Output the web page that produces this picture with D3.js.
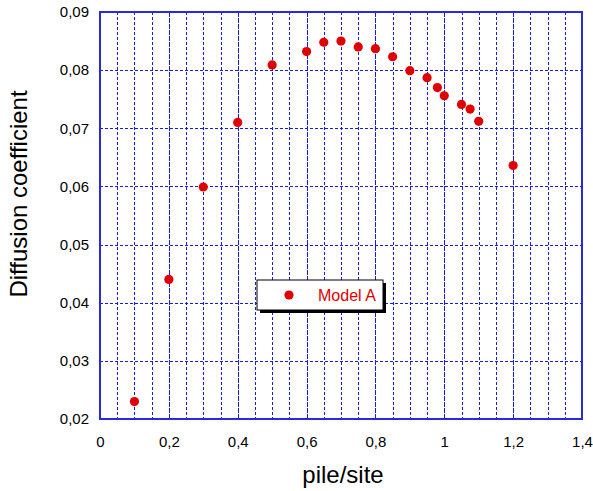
<!DOCTYPE html>
<html>
<head>
<meta charset="utf-8">
<script src="https://cdn.jsdelivr.net/npm/d3@7"></script>
<style>
  html, body { margin: 0; padding: 0; background: #fff; }
  svg { display: block; font-family: "Liberation Sans", Arial, sans-serif; }
</style>
</head>
<body>
<svg id="chart" width="593" height="491"></svg>
<script>
// Diffusion coefficient as a function of pile/site ratio
const pileSite = [0.1, 0.2, 0.3, 0.4, 0.5, 0.6, 0.65, 0.7, 0.75, 0.8, 0.85, 0.9, 0.95, 0.98, 1.0, 1.05, 1.075, 1.1, 1.2];
const diffusion = [0.0230, 0.0440, 0.0599, 0.0710, 0.0809, 0.0832, 0.0848, 0.0850, 0.0840, 0.0837, 0.0823, 0.0799, 0.0787, 0.0770, 0.0756, 0.0741, 0.0733, 0.0712, 0.0636];
const seriesName = "Model A";

const xTicks = [0, 0.2, 0.4, 0.6, 0.8, 1.0, 1.2, 1.4];
const xGrid = d3.range(1, 28).map(i => i * 0.05);
const yTicks = [0.02, 0.03, 0.04, 0.05, 0.06, 0.07, 0.08, 0.09];

const xLabel = "pile/site";
const yLabel = "Diffusion coefficient";

const locale = d3.formatLocale({ decimal: ",", thousands: ".", grouping: [3], currency: ["", ""] });
const fmt = v => locale.format("~g")(+v.toFixed(4));

const svg = d3.select("#chart");
const m = { left: 100, right: 582, top: 12, bottom: 419 };

const x = d3.scaleLinear().domain([0, 1.4]).range([m.left, m.right]);
const y = d3.scaleLinear().domain([0.02, 0.09]).range([m.bottom, m.top]);

const gridColor = "#1a1ae6";
const frameColor = "#2a2ad8";
const red = "#e00000";

// grid: dashed every 0.05 on x (denser dashes on the 0.2 steps), every 0.01 on y
const grid = svg.append("g");
grid.selectAll("line.vx").data(xGrid).join("line")
  .attr("x1", d => Math.round(x(d)) + 0.5).attr("x2", d => Math.round(x(d)) + 0.5)
  .attr("y1", m.top).attr("y2", m.bottom)
  .attr("stroke", gridColor).attr("stroke-width", 1)
  .attr("stroke-dasharray", d => (Math.round(d * 100) % 20 === 0) ? "5,1" : "3,2");
grid.selectAll("line.hy").data(yTicks.slice(1, -1)).join("line")
  .attr("x1", m.left).attr("x2", m.right)
  .attr("y1", d => Math.round(y(d)) + 0.5).attr("y2", d => Math.round(y(d)) + 0.5)
  .attr("stroke", gridColor).attr("stroke-width", 1)
  .attr("stroke-dasharray", "3,2");

// axes
const xAxis = svg.append("g").attr("transform", `translate(0,${m.bottom})`)
  .call(d3.axisBottom(x).tickValues(xTicks).tickFormat(fmt).tickSize(0).tickPadding(17));
const yAxis = svg.append("g").attr("transform", `translate(${m.left},0)`)
  .call(d3.axisLeft(y).tickValues(yTicks).tickFormat(fmt).tickSize(0).tickPadding(11));
[xAxis, yAxis].forEach(g => {
  g.select(".domain").remove();
  g.selectAll("text").attr("font-size", 15).attr("fill", "#000")
    .attr("font-family", "'Liberation Sans', Arial, sans-serif");
});

// frame
svg.append("rect")
  .attr("x", m.left).attr("y", m.top)
  .attr("width", m.right - m.left).attr("height", m.bottom - m.top)
  .attr("fill", "none").attr("stroke", frameColor).attr("stroke-width", 2);

// points
svg.append("g").selectAll("circle").data(pileSite).join("circle")
  .attr("cx", (d, i) => x(d)).attr("cy", (d, i) => y(diffusion[i]))
  .attr("r", 4.6).attr("fill", red);

// axis titles
svg.append("text").attr("x", 343).attr("y", 483)
  .attr("text-anchor", "middle").attr("font-size", 24).text(xLabel);
svg.append("text").attr("transform", "translate(27,194) rotate(-90)")
  .attr("text-anchor", "middle").attr("font-size", 24).text(yLabel);

// legend
const lg = svg.append("g").attr("transform", "translate(257,280)");
lg.append("rect").attr("x", 3).attr("y", 3).attr("width", 126).attr("height", 30).attr("fill", "#000");
lg.append("rect").attr("x", 0).attr("y", 0).attr("width", 126).attr("height", 30)
  .attr("fill", "#fff").attr("stroke", "#000").attr("stroke-width", 1);
lg.append("circle").attr("cx", 32).attr("cy", 15).attr("r", 4.6).attr("fill", red);
lg.append("text").attr("x", 61).attr("y", 20.5).attr("font-size", 16).attr("fill", red).text(seriesName);
</script>
</body>
</html>
